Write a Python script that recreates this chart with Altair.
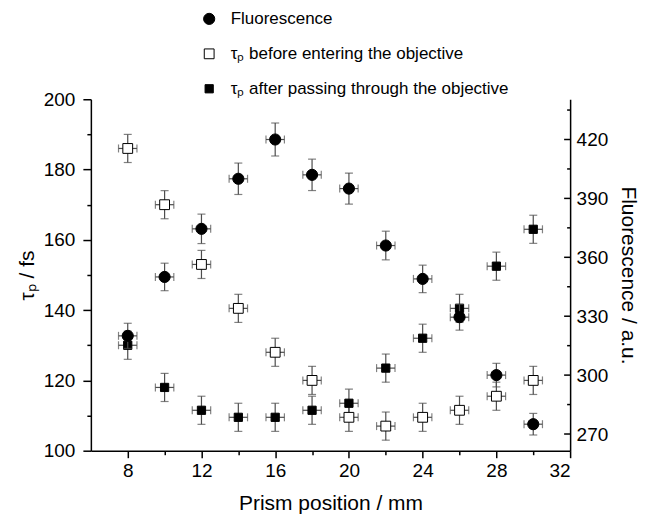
import altair as alt
import pandas as pd

# ---------------- data ----------------
prism_pos = [8, 10, 12, 14, 16, 18, 20, 22, 24, 26, 28, 30]
tau_before = [186, 170, 153, 140.5, 128, 120, 109.5, 107, 109.5, 111.5, 115.5, 120]
tau_after = [130, 118, 111.5, 109.5, 109.5, 111.5, 113.5, 123.5, 132, 140.5, 152.5, 163]
fluorescence = [320, 350, 374.5, 400, 420, 402, 395, 366, 349, 329.5, 300, 275]
tau_err_before = [4, 4, 4, 4, 4, 4, 4, 4, 4, 4, 4, 4]
tau_err_after = [4, 4, 4, 4, 4, 4, 4, 4, 4, 4, 4, 4]
fluor_err = [6.4, 7.0, 7.5, 8.0, 8.4, 8.0, 7.9, 7.3, 7.0, 6.6, 6.0, 5.5]
pos_err = [0.5, 0.5, 0.5, 0.5, 0.5, 0.5, 0.5, 0.5, 0.5, 0.5, 0.5, 0.5]

series_names = ["Fluorescence",
                "τₚ before entering the objective",
                "τₚ after passing through the objective"]

x_ticks = [8, 10, 12, 14, 16, 18, 20, 22, 24, 26, 28, 30, 32]
left_ticks = [100, 110, 120, 130, 140, 150, 160, 170, 180, 190, 200]
right_major_ticks = [270, 300, 330, 360, 390, 420]
right_minor_ticks = [285, 315, 345, 375, 405, 435]

# ---------------- tables ----------------
def make_df(vals, errs, name):
    df = pd.DataFrame({"x": prism_pos, "val": vals, "err": errs,
                       "xerr": pos_err, "series": name})
    df["lo"] = df["val"] - df["err"]
    df["hi"] = df["val"] + df["err"]
    df["xlo"] = df["x"] - df["xerr"]
    df["xhi"] = df["x"] + df["xerr"]
    return df

tau_df = pd.concat([make_df(tau_before, tau_err_before, series_names[1]),
                    make_df(tau_after, tau_err_after, series_names[2])])
fl_df = make_df(fluorescence, fluor_err, series_names[0])

W, H = 480, 352
FONT = "Liberation Sans"
ERR_COLOR = "#4d4d4d"

x_axis = alt.Axis(title="Prism position / mm", values=x_ticks,
                  labelExpr="datum.value % 4 == 0 ? datum.label : ''",
                  tickSize={"condition": {"test": "datum.value % 4 == 0", "value": 7}, "value": 4},
                  labelPadding=4, titlePadding=12)
x_scale = alt.Scale(domain=[6, 32], nice=False, zero=False)

left_axis = alt.Axis(title="τₚ / fs", orient="left", values=left_ticks,
                     labelExpr="datum.value % 20 == 0 ? datum.label : ''",
                     tickSize={"condition": {"test": "datum.value % 20 == 0", "value": 8}, "value": 4},
                     labelPadding=8, titlePadding=6)
left_scale = alt.Scale(domain=[100, 200], nice=False, zero=False)

right_axis = alt.Axis(title="Fluorescence / a.u.", orient="right",
                      values=right_major_ticks, ticks=False,
                      labelPadding=6, titlePadding=10)
right_scale = alt.Scale(domain=[261.5, 440.5], nice=False, zero=False)

leg_scale_shape = alt.Scale(domain=series_names, range=["circle", "square", "square"])
leg_scale_fill = alt.Scale(domain=series_names, range=["black", "white", "black"])
leg_scale_stroke = alt.Scale(domain=series_names, range=["black", "black", "black"])
leg_scale_size = alt.Scale(domain=series_names, range=[125, 68, 68])
legend = alt.Legend(title=None, orient="none", legendX=110, legendY=-89,
                    rowPadding=17, labelOffset=13, symbolStrokeWidth=1,
                    labelFontSize=17, labelFont=FONT, labelLimit=0)


def X(field="x"):
    return alt.X(f"{field}:Q", scale=x_scale, axis=x_axis)


def group(df, yscale, yaxis, extra=None):
    def Y(field):
        return alt.Y(f"{field}:Q", scale=yscale, axis=yaxis)
    base = alt.Chart(df)
    vbar = base.mark_rule(color=ERR_COLOR, strokeWidth=1.2).encode(x=X(), y=Y("lo"), y2="hi:Q")
    vcap_lo = base.mark_tick(color=ERR_COLOR, orient="horizontal", size=8, thickness=1.2).encode(x=X(), y=Y("lo"))
    vcap_hi = base.mark_tick(color=ERR_COLOR, orient="horizontal", size=8, thickness=1.2).encode(x=X(), y=Y("hi"))
    hbar = base.mark_rule(color=ERR_COLOR, strokeWidth=1.2).encode(x=X("xlo"), x2="xhi:Q", y=Y("val"))
    hcap_lo = base.mark_tick(color=ERR_COLOR, orient="vertical", size=8, thickness=1.2).encode(x=X("xlo"), y=Y("val"))
    hcap_hi = base.mark_tick(color=ERR_COLOR, orient="vertical", size=8, thickness=1.2).encode(x=X("xhi"), y=Y("val"))
    pts = base.mark_point(filled=True, strokeWidth=1, opacity=1).encode(
        x=X(), y=Y("val"),
        shape=alt.Shape("series:N", scale=leg_scale_shape, legend=legend),
        fill=alt.Fill("series:N", scale=leg_scale_fill, legend=legend),
        stroke=alt.Stroke("series:N", scale=leg_scale_stroke, legend=legend),
        size=alt.Size("series:N", scale=leg_scale_size, legend=legend),
    )
    layers = [vbar, vcap_lo, vcap_hi, hbar, hcap_lo, hcap_hi, pts]
    if extra is not None:
        layers = extra(Y) + layers
    return alt.layer(*layers)


def right_ticks(Y):
    maj = alt.Chart(pd.DataFrame({"t": right_major_ticks})).mark_rule(color="black", strokeWidth=1.5).encode(
        y=Y("t"), x=alt.value(W - 6), x2=alt.value(W))
    mnr = alt.Chart(pd.DataFrame({"t": right_minor_ticks})).mark_rule(color="black", strokeWidth=1.5).encode(
        y=Y("t"), x=alt.value(W - 3), x2=alt.value(W))
    return [maj, mnr]


tau_group = group(tau_df, left_scale, left_axis)
fl_group = group(fl_df, right_scale, right_axis, extra=right_ticks)

chart = alt.layer(tau_group, fl_group).resolve_scale(y="independent").properties(
    width=W, height=H, padding={"left": 8, "top": 2, "right": 2, "bottom": 2}
).configure_view(stroke=None).configure_axis(
    labelFont=FONT, titleFont=FONT, labelFontSize=19, titleFontSize=21,
    labelColor="black", titleColor="black", domainColor="black", tickColor="black",
    domainWidth=1.5, tickWidth=1.5, grid=False, titleFontWeight="normal"
).configure_legend(labelColor="black")

chart.save("out.html", embed_options={"renderer": "svg", "actions": False})
